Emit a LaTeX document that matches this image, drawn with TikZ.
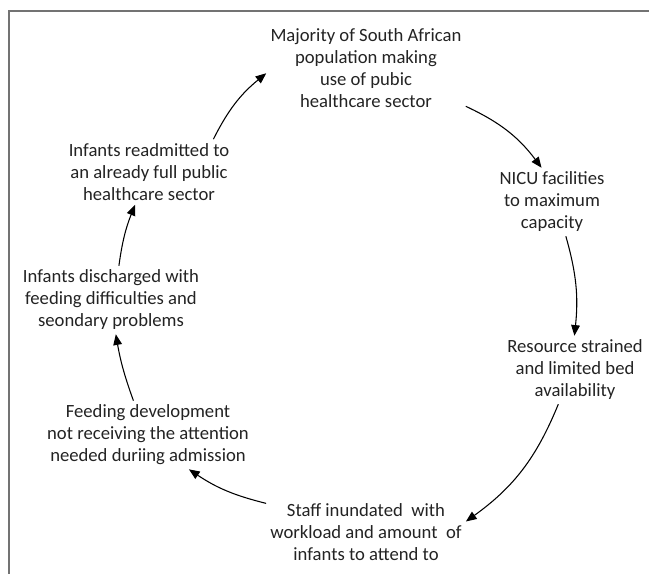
\documentclass[tikz,border=0pt]{standalone}
\usepackage{fontspec}
\setmainfont{Carlito}
\usetikzlibrary{arrows.meta}
\definecolor{framegray}{RGB}{115,115,115}
\definecolor{inkgray}{RGB}{35,35,35}
\begin{document}
\begin{tikzpicture}[x=0.75pt,y=-0.75pt]


\tikzset{
	stage/.style={align=center, inner sep=3pt, text=inkgray, font=\fontsize{14}{16.5}\selectfont},
	flow/.style={-{Triangle[length=8pt,width=6.5pt]}, line width=0.8pt, draw=black}
}

\useasboundingbox (0,0) rectangle (649,574);
\draw[framegray, line width=1.3pt] (9,574) -- (9,11) -- (649,11);

\node[stage] (major) at (366,68) {Majority of South African\\population making\\use of pubic\\healthcare sector};
\node[stage] (nicu) at (552,202) {NICU facilities\\to maximum\\capacity};
\node[stage] (resrc) at (575,370) {Resource strained\\and limited bed\\availability};
\node[stage] (staff) at (366,532) {Staff inundated\ \ with\\workload and amount\ \ of\\infants to attend to};
\node[stage] (feed) at (148,435) {Feeding development\\not receiving the attention\\needed duriing admission};
\node[stage] (disch) at (111,300) {Infants discharged with\\feeding difficulties and\\seondary problems};
\node[stage] (readm) at (149,172) {Infants readmitted to\\an already full public\\healthcare sector};

\draw[flow] (readm.27) to[bend left=12] (major.183);
\draw[flow] (major.-21) to[bend left=14] (nicu.107);
\draw[flow] (nicu.-68) to[bend left=11] (resrc.91);
\draw[flow] (resrc.244) to[bend left=16] (staff.6);
\draw[flow] (staff.164) to[bend left=10] (feed.-40);
\draw[flow] (feed.113) to[bend left=5] (disch.278);
\draw[flow] (disch.77) to[bend left=7] (readm.247);

\end{tikzpicture}
\end{document}
